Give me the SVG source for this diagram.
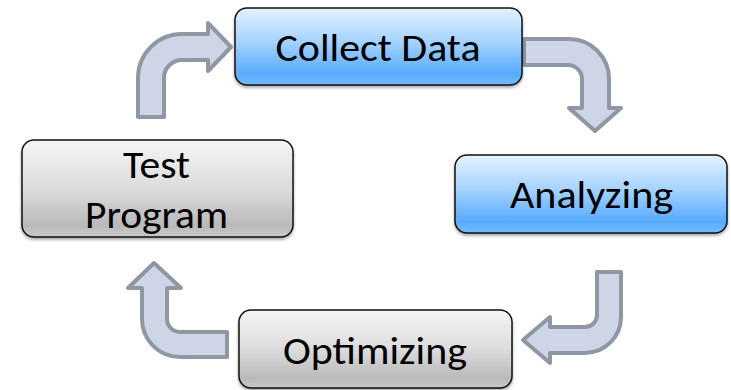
<svg xmlns="http://www.w3.org/2000/svg" width="731" height="390" viewBox="0 0 731 390">
<defs>
<linearGradient id="blue" x1="0" y1="0" x2="0" y2="1">
<stop offset="0" stop-color="#e4f2ff"/>
<stop offset="0.45" stop-color="#a3d2ff"/>
<stop offset="0.85" stop-color="#58abfc"/>
<stop offset="1" stop-color="#74bbff"/>
</linearGradient>
<linearGradient id="gray" x1="0" y1="0" x2="0" y2="1">
<stop offset="0" stop-color="#f5f5f5"/>
<stop offset="0.5" stop-color="#dcdcdc"/>
<stop offset="0.88" stop-color="#b9b9b9"/>
<stop offset="1" stop-color="#c9c9c9"/>
</linearGradient>
<filter id="sh" x="-5%" y="-10%" width="110%" height="130%">
<feDropShadow dx="0" dy="2" stdDeviation="1.5" flood-color="#000" flood-opacity="0.35"/>
</filter>
</defs>
<style>
.arrow{fill:#cdd5e6;stroke:#8f97a3;stroke-width:4;stroke-linejoin:round}
.box{stroke:#111;stroke-width:1.5;filter:url(#sh)}
.b{fill:url(#blue)}
.g{fill:url(#gray)}
.t{font-family:Carlito,Calibri,Lato,"Open Sans",sans-serif;font-size:38px;fill:#000;text-anchor:middle}
</style>
<g id="connectors">
<path class="arrow" d="M138,117 L138,78 A44,44 0 0 1 182,34 L208,34 L208,23 L231,47 L208,71 L208,60 L182,60 A18,18 0 0 0 164,78 L164,117 Z"/>
<path class="arrow" d="M524,39 L569,39 A40,40 0 0 1 609,79 L609,108 L621,108 L595,131 L569,108 L582,108 L582,79 A14,14 0 0 0 568,65 L524,65 Z"/>
<path class="arrow" d="M597,272 L621,272 L621,317 A36,36 0 0 1 585,353 L550,353 L550,363 L523,340 L550,317 L550,327 L585,327 A12,12 0 0 0 597,315 Z"/>
<path class="arrow" d="M227,357 L180,357 A38,38 0 0 1 142,319 L142,288 L128,288 L154,263 L181,288 L167,288 L167,319 A13,13 0 0 0 180,332 L227,332 Z"/>
</g>
<g id="collect-data">
<rect class="box b" x="235" y="8" width="287" height="77" rx="12"/>
<text class="t" x="378" y="61" textLength="205" lengthAdjust="spacingAndGlyphs">Collect Data</text>
</g>
<g id="analyzing">
<rect class="box b" x="455" y="155" width="272" height="78" rx="12"/>
<text class="t" x="591.5" y="208" textLength="163" lengthAdjust="spacingAndGlyphs">Analyzing</text>
</g>
<g id="optimizing">
<rect class="box g" x="239" y="310" width="273" height="78" rx="12"/>
<text class="t" x="375" y="364" textLength="184" lengthAdjust="spacingAndGlyphs">Optimizing</text>
</g>
<g id="test-program">
<rect class="box g" x="22" y="140" width="271" height="97" rx="12"/>
<text class="t" x="156.5" y="178" textLength="67" lengthAdjust="spacingAndGlyphs">Test</text>
<text class="t" x="156.5" y="228" textLength="143" lengthAdjust="spacingAndGlyphs">Program</text>
</g>
</svg>
